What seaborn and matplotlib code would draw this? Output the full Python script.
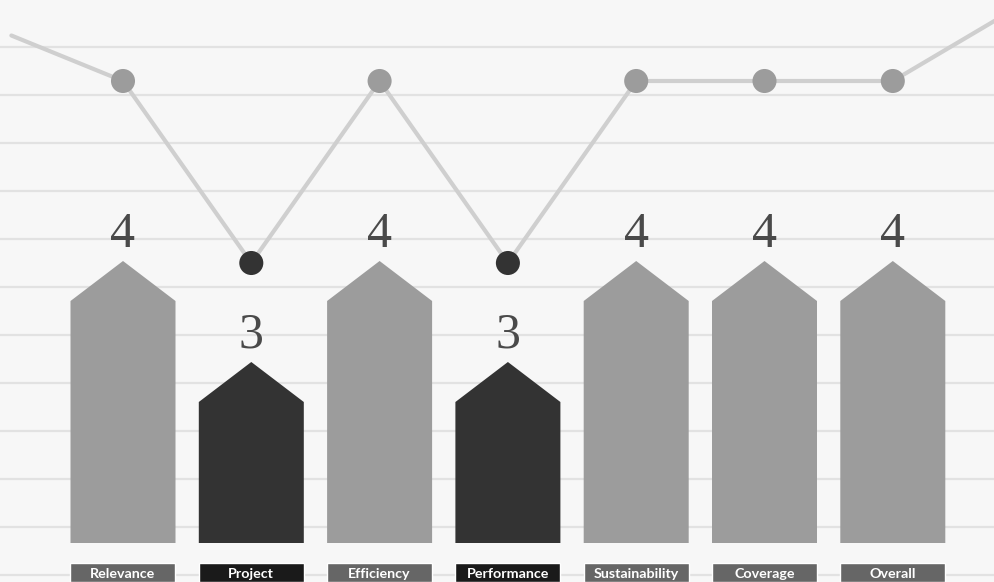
import numpy as np
import pandas as pd
import matplotlib
matplotlib.use("Agg")
import matplotlib.pyplot as plt
import seaborn as sns

# Evaluation criteria and their scores
categories = ["Relevance", "Project", "Efficiency", "Performance",
              "Sustainability", "Coverage", "Overall"]
scores = [4, 3, 4, 3, 4, 4, 4]

# trend line runs off both edges of the chart
edge_left = 4.25
edge_right = 4.5

bar_colors = {4: "#9c9c9c", 3: "#333333"}
box_colors = {4: "#666666", 3: "#1a1a1a"}

sns.set_style("white")

fig = plt.figure(figsize=(9.95, 5.82), dpi=100)
fig.patch.set_facecolor("#f7f7f7")
ax = fig.add_axes([0, 0, 1, 1])
ax.set_facecolor("#f7f7f7")

px_x = 128.3   # pixels per category
px_bar = 101   # pixels per score unit (bars)
px_line = 182  # pixels per score unit (line)

ax.set_xlim(-123 / px_x, (995 - 123) / px_x)
top = 4 + 261 / px_bar
ax.set_ylim(top - 582 / px_bar, top)
base = top - 543 / px_bar

# horizontal rule lines
ax.set_yticks(top - (47 + 48 * np.arange(12)) / px_bar)
ax.grid(axis="y", color="#e2e2e2", lw=1.6)
ax.set_axisbelow(True)

# arrow-shaped bars
w = 105 / px_x
shoulder = 40 / px_bar
for i, v in enumerate(scores):
    xs = [i - w / 2, i - w / 2, i, i + w / 2, i + w / 2]
    ys = [base, v - shoulder, v, v - shoulder, base]
    ax.fill(xs, ys, color=bar_colors[v], lw=0, zorder=2)
    ax.text(i, v + 14 / px_bar, str(v), ha="center", va="baseline",
            family="Liberation Serif", fontsize=36, color="#4a4a4a", zorder=3)

# category label boxes
box_top = top - 563 / px_bar
ax.bar(range(len(categories)), box_top - (top - 582 / px_bar),
       bottom=top - 582 / px_bar, width=w,
       color=[box_colors[v] for v in scores], zorder=2)
for i, c in enumerate(categories):
    ax.text(i, top - 574 / px_bar, c, ha="center", va="center",
            family="Lato", fontweight="bold", fontsize=10.3, color="white", zorder=3)

# trend line on its own scale
ax2 = ax.twinx()
ax2.set_ylim(4 - 501 / px_line, 4 + 81 / px_line)
line_df = pd.DataFrame({
    "x": [-0.87] + list(range(len(scores))) + [7.2],
    "y": [edge_left] + scores + [edge_right],
})
sns.lineplot(data=line_df, x="x", y="y", color="#cfcfcf", lw=3, ax=ax2)
pts = pd.DataFrame({"x": range(len(scores)), "y": scores})
sns.scatterplot(data=pts, x="x", y="y", hue="y", palette={4: "#9c9c9c", 3: "#333333"},
                s=300, linewidth=0, legend=False, ax=ax2, zorder=4)

for a in (ax, ax2):
    a.set_xlabel("")
    a.set_ylabel("")
    a.tick_params(left=False, right=False, bottom=False,
                  labelleft=False, labelright=False, labelbottom=False)
    for s in a.spines.values():
        s.set_visible(False)
ax.set_xlim(-123 / px_x, (995 - 123) / px_x)

fig.savefig("out.png", dpi=100, facecolor=fig.get_facecolor())
